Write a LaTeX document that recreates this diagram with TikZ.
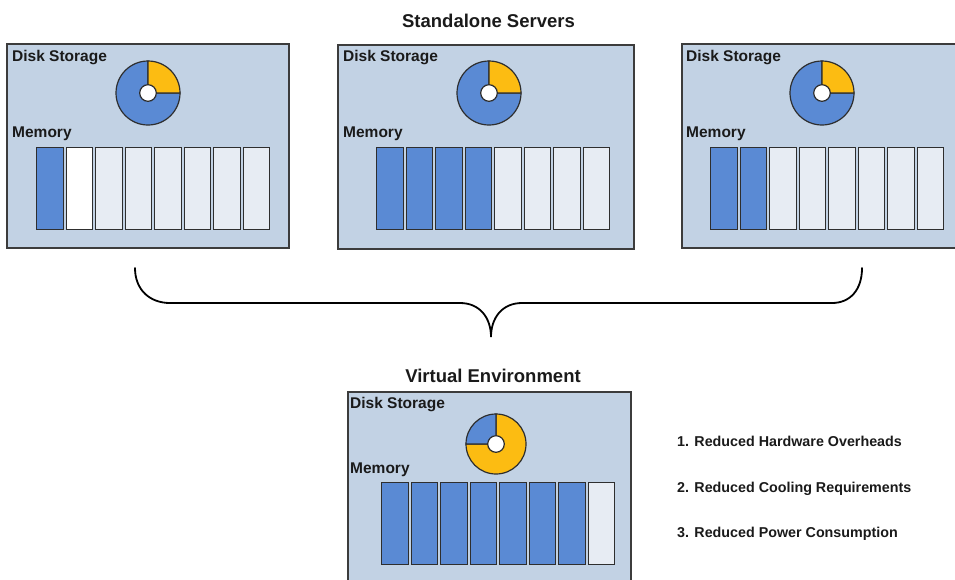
\documentclass[tikz,border=0pt]{standalone}
\usepackage{fontspec}
\setmainfont{Liberation Sans}
\definecolor{boxfill}{HTML}{C2D2E4}
\definecolor{boxline}{HTML}{3C3C3C}
\definecolor{barline}{HTML}{2E2E2E}
\definecolor{barblue}{HTML}{5A8AD4}
\definecolor{barfree}{HTML}{E7ECF3}
\definecolor{diskyel}{HTML}{FCBC12}
\definecolor{txt}{HTML}{1A1A1A}
\tikzset{
  srvbox/.style={draw=boxline, fill=boxfill, line width=1.5pt, anchor=north west, inner sep=0pt, outer sep=0pt},
  membar/.style={draw=barline, line width=1.4pt, anchor=north west, minimum width=26.5pt, minimum height=82pt, inner sep=0pt},
  used/.style={membar, fill=barblue},
  free/.style={membar, fill=barfree},
  empty/.style={membar, fill=white},
  lbl/.style={anchor=base west, font=\fontsize{15.5}{17}\selectfont\bfseries, text=txt, inner sep=0pt},
  ttl/.style={anchor=base, font=\fontsize{18.5}{20}\selectfont\bfseries, text=txt, inner sep=0pt},
  note/.style={anchor=base west, font=\fontsize{14.3}{16}\selectfont\bfseries, text=txt, inner sep=0pt},
  pie/.style={draw=barline, line width=1.2pt},
  brace/.style={draw=black, line width=1.8pt, line cap=round},
}
% #1 centre, #2 radius, sector #3..#4 in colour #5, the rest in colour #6
\newcommand\diskpie[6]{%
  \filldraw[pie, fill=#6] (#1) -- ++(#4:#2) arc (#4:#3+360:#2) -- cycle;
  \filldraw[pie, fill=#5] (#1) -- ++(#3:#2) arc (#3:#4:#2) -- cycle;
  \filldraw[pie, fill=white] (#1) circle (8.3pt);
}
% #1 name prefix, #2 left x, #3 top y, #4 list of bar styles
\newcommand\memrow[4]{%
  \foreach \st [count=\i from 0] in {#4}
    \node[\st] (#1-\i) at ({#2+\i*29.5}, #3) {};
}
\begin{document}
\begin{tikzpicture}[x=1pt, y=-1pt]
\useasboundingbox (0,0) rectangle (955,579);
\clip (0,0) rectangle (955,579);

\node[ttl] (toptitle) at (488.5,27) {Standalone Servers};

% three standalone servers
\node[srvbox, minimum width=282pt, minimum height=204pt] (srv1) at (7,44) {};
\node[srvbox, minimum width=296pt, minimum height=204pt] (srv2) at (338,45) {};
\node[srvbox, minimum width=300pt, minimum height=204pt] (srv3) at (682,44) {};

\node[lbl] (disk1) at (12,61) {Disk Storage};
\node[lbl] (mem1) at (12,137) {Memory};
\node[lbl] (disk2) at (343,61) {Disk Storage};
\node[lbl] (mem2) at (343,137) {Memory};
\node[lbl] (disk3) at (686,61) {Disk Storage};
\node[lbl] (mem3) at (686,137) {Memory};

\coordinate (pie1) at (148,93);
\coordinate (pie2) at (489,93);
\coordinate (pie3) at (822,93);
\diskpie{pie1}{32pt}{0}{90}{diskyel}{barblue}
\diskpie{pie2}{32pt}{0}{90}{diskyel}{barblue}
\diskpie{pie3}{32pt}{0}{90}{diskyel}{barblue}

\memrow{m1}{36}{147}{used,empty,free,free,free,free,free,free}
\memrow{m2}{376}{147}{used,used,used,used,free,free,free,free}
\memrow{m3}{710}{147}{used,used,free,free,free,free,free,free}

% brace gathering the servers
\draw[brace] (135,268) .. controls (135,290) and (150,303) .. (170,303)
  -- (460,303) .. controls (480,303) and (491,318) .. (491,337)
  .. controls (491,318) and (502,303) .. (522,303)
  -- (832,303) .. controls (850,303) and (862,290) .. (862,268);

% consolidated virtual environment
\node[ttl] (vtitle) at (493,382) {Virtual Environment};
\node[srvbox, minimum width=283pt, minimum height=220pt] (virt) at (348,392) {};
\node[lbl] (diskv) at (350,408) {Disk Storage};
\node[lbl] (memv) at (350,473) {Memory};
\coordinate (piev) at (496,444);
\diskpie{piev}{30pt}{90}{180}{barblue}{diskyel}
\memrow{mv}{381}{482}{used,used,used,used,used,used,used,free}

\node[note] (n1) at (677,446) {1. Reduced Hardware Overheads};
\node[note] (n2) at (677,492) {2. Reduced Cooling Requirements};
\node[note] (n3) at (677,537) {3. Reduced Power Consumption};
\end{tikzpicture}
\end{document}
